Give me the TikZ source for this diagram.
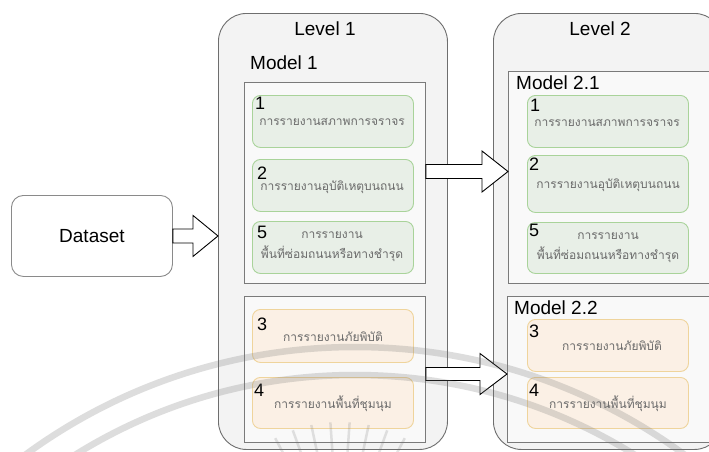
\documentclass[tikz,border=0pt]{standalone}
\usepackage{fontspec}
\setmainfont{Liberation Sans}
\newfontfamily\thaifont[Script=Thai]{Loma}
\usetikzlibrary{calc}

\definecolor{lvlfill}{HTML}{F3F3F3}
\definecolor{lvlline}{HTML}{6E6E6E}
\definecolor{grpfill}{HTML}{F9F9F9}
\definecolor{grpline}{HTML}{7A7A7A}
\definecolor{gfill}{HTML}{E8EFE7}
\definecolor{gline}{HTML}{A9D39A}
\definecolor{ofill}{HTML}{FBF0E5}
\definecolor{oline}{HTML}{EFD49C}
\definecolor{thaigray}{HTML}{6A6A6A}
\definecolor{dsline}{HTML}{8A8A8A}

\tikzset{
  lvlbox/.style={draw=lvlline, fill=lvlfill, rounded corners=28pt, line width=0.9pt,
    anchor=north west, inner sep=0pt},
  grpbox/.style={draw=grpline, fill=grpfill, line width=0.9pt, anchor=north west, inner sep=0pt},
  gbox/.style={draw=gline, fill=gfill, rounded corners=8pt, line width=0.9pt,
    anchor=north west, inner sep=0pt, minimum width=161pt},
  obox/.style={draw=oline, fill=ofill, rounded corners=8pt, line width=0.9pt,
    anchor=north west, inner sep=0pt, minimum width=161pt},
  dsbox/.style={draw=dsline, fill=white, rounded corners=12pt, line width=0.9pt,
    anchor=north west, inner sep=0pt, minimum width=161pt, minimum height=81pt},
  num/.style={anchor=north west, inner sep=0pt, font=\fontsize{18}{18}\selectfont},
  thai/.style={text=thaigray, font=\thaifont\fontsize{12}{20}\selectfont, align=center, inner sep=0pt},
  title/.style={inner sep=0pt, font=\fontsize{19}{19}\selectfont},
  blockarrow/.style={draw=black, fill=white, line width=0.9pt, line join=miter},
  wm/.style={draw=black!55, line width=6.5pt, opacity=0.24}
}

% block arrow: start, tip, head length, shaft half height, head half height
\newcommand\fatarrow[5]{%
  \draw[blockarrow] ($(#1)+(0,-#4)$) -- ($(#2)+(-#3,-#4)$) -- ($(#2)+(-#3,-#5)$) -- (#2)
    -- ($(#2)+(-#3,#5)$) -- ($(#2)+(-#3,#4)$) -- ($(#1)+(0,#4)$) -- cycle;}

\begin{document}
\begin{tikzpicture}[x=1pt, y=-1pt]
\useasboundingbox[fill=white] (0,0) rectangle (709,451);

% input
\node[dsbox] (ds) at (11,195) {};
\node[title] (dstxt) at (ds.center) {Dataset};

% level containers
\node[lvlbox, minimum width=229pt, minimum height=436pt] (L1) at (218,13) {};
\node[lvlbox, minimum width=229pt, minimum height=436pt] (L2) at (493,13) {};
\node[title] (L1t) at (325,29) {Level 1};
\node[title] (L2t) at (600,29) {Level 2};

% model groups
\node[grpbox, minimum width=181pt, minimum height=201pt] (M1a) at (244,82) {};
\node[grpbox, minimum width=181pt, minimum height=146pt] (M1b) at (244,296) {};
\node[grpbox, minimum width=215pt, minimum height=212pt] (M21) at (508,71) {};
\node[grpbox, minimum width=216pt, minimum height=146pt] (M22) at (507,296) {};
\node[title, anchor=west] (M1t) at (250,63) {Model 1};
\node[title, anchor=west] (M21t) at (516,83) {Model 2.1};
\node[title, anchor=west] (M22t) at (514,308) {Model 2.2};

% level 1 tasks
\node[gbox, minimum height=52pt] (g11) at (252,95) {};
\node[gbox, minimum height=52pt] (g12) at (252,159) {};
\node[gbox, minimum height=52pt] (g15) at (252,221) {};
\node[obox, minimum height=53pt] (o13) at (252,309) {};
\node[obox, minimum height=51pt] (o14) at (252,377) {};

\node[num] (n11) at (255,97) {1};
\node[num] (n12) at (257,167) {2};
\node[num] (n15) at (257,226) {5};
\node[num] (n13) at (257,318) {3};
\node[num] (n14) at (254,384) {4};

\node[thai] (t11) at (332,122) {การรายงานสภาพการจราจร};
\node[thai] (t12) at (332,187) {การรายงานอุบัติเหตุบนถนน};
\node[thai] (t15) at (332,247) {การรายงาน\\พื้นที่ซ่อมถนนหรือทางชำรุด};
\node[thai] (t13) at (333,337) {การรายงานภัยพิบัติ};
\node[thai] (t14) at (333,404) {การรายงานพื้นที่ชุมนุม};

% level 2 tasks
\node[gbox, minimum height=52pt] (g21) at (527,95) {};
\node[gbox, minimum height=57pt] (g22) at (527,155) {};
\node[gbox, minimum height=51pt] (g25) at (527,222) {};
\node[obox, minimum height=52pt] (o23) at (527,319) {};
\node[obox, minimum height=51pt] (o24) at (527,377) {};

\node[num] (n21) at (530,99) {1};
\node[num] (n22) at (529,158) {2};
\node[num] (n25) at (529,224) {5};
\node[num] (n23) at (529,325) {3};
\node[num] (n24) at (529,384) {4};

\node[thai] (t21) at (607,123) {การรายงานสภาพการจราจร};
\node[thai] (t22) at (608,185) {การรายงานอุบัติเหตุบนถนน};
\node[thai] (t25) at (608,248) {การรายงาน\\พื้นที่ซ่อมถนนหรือทางชำรุด};
\node[thai] (t23) at (612,346) {การรายงานภัยพิบัติ};
\node[thai] (t24) at (608,404) {การรายงานพื้นที่ชุมนุม};

% connectors
\coordinate (a1tip) at (L1.west |- ds.east);
\fatarrow{ds.east}{a1tip}{25}{7}{20.5}
\coordinate (a2s) at ($(M1a.north east)+(0,89.5)$);
\coordinate (a2tip) at (M21.west |- a2s);
\fatarrow{a2s}{a2tip}{26}{7}{20.5}
\coordinate (a3s) at ($(M1b.north east)+(0,78)$);
\coordinate (a3tip) at (M22.west |- a3s);
\fatarrow{a3s}{a3tip}{27}{6.5}{20.5}

% faint emblem in the background
\begin{scope}
  \clip (0,0) rectangle (709,451);
  \draw[wm] (355,905) circle[radius=558];
  \draw[wm] (355,905) circle[radius=530];
  \foreach \a in {-28,-20,...,28}
    \draw[wm, line width=2.5pt, opacity=0.2] ($(340,560)+(\a-90:104)$) -- ($(340,560)+(\a-90:138)$);
\end{scope}
\end{tikzpicture}
\end{document}
